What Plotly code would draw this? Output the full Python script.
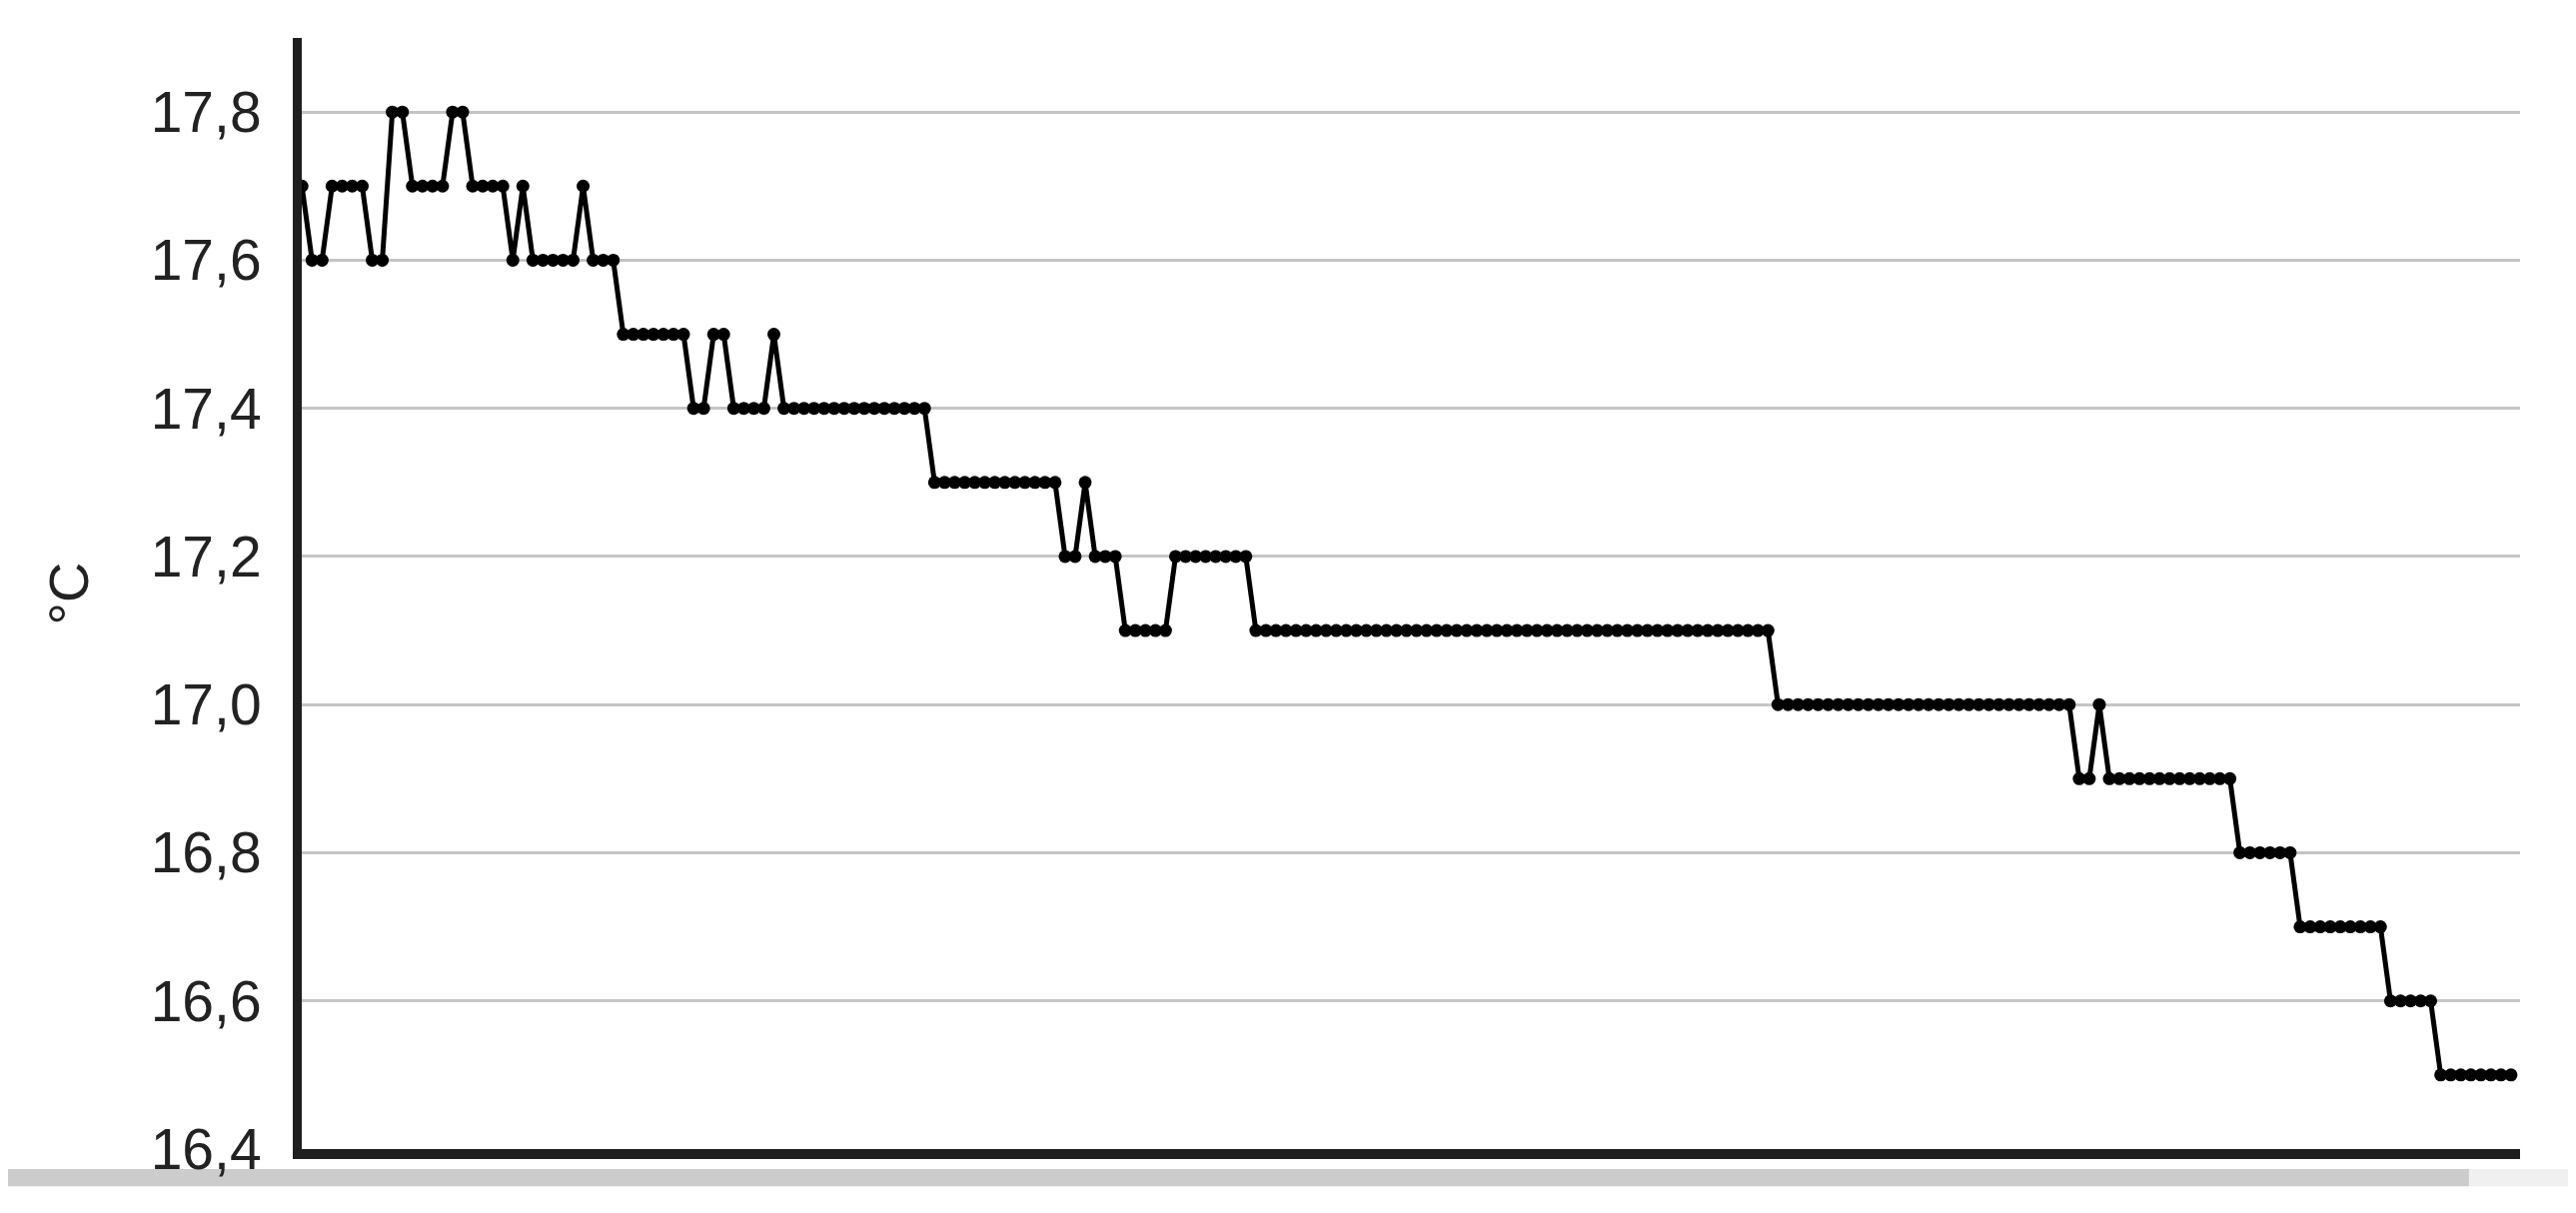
import plotly.graph_objects as go

# temperature readings, one every sample step
temps = [
    17.7, 17.6, 17.6, 17.7, 17.7, 17.7, 17.7, 17.6, 17.6, 17.8,
    17.8, 17.7, 17.7, 17.7, 17.7, 17.8, 17.8, 17.7, 17.7, 17.7,
    17.7, 17.6, 17.7, 17.6, 17.6, 17.6, 17.6, 17.6, 17.7, 17.6,
    17.6, 17.6, 17.5, 17.5, 17.5, 17.5, 17.5, 17.5, 17.5, 17.4,
    17.4, 17.5, 17.5, 17.4, 17.4, 17.4, 17.4, 17.5, 17.4, 17.4,
    17.4, 17.4, 17.4, 17.4, 17.4, 17.4, 17.4, 17.4, 17.4, 17.4,
    17.4, 17.4, 17.4, 17.3, 17.3, 17.3, 17.3, 17.3, 17.3, 17.3,
    17.3, 17.3, 17.3, 17.3, 17.3, 17.3, 17.2, 17.2, 17.3, 17.2,
    17.2, 17.2, 17.1, 17.1, 17.1, 17.1, 17.1, 17.2, 17.2, 17.2,
    17.2, 17.2, 17.2, 17.2, 17.2, 17.1, 17.1, 17.1, 17.1, 17.1,
    17.1, 17.1, 17.1, 17.1, 17.1, 17.1, 17.1, 17.1, 17.1, 17.1,
    17.1, 17.1, 17.1, 17.1, 17.1, 17.1, 17.1, 17.1, 17.1, 17.1,
    17.1, 17.1, 17.1, 17.1, 17.1, 17.1, 17.1, 17.1, 17.1, 17.1,
    17.1, 17.1, 17.1, 17.1, 17.1, 17.1, 17.1, 17.1, 17.1, 17.1,
    17.1, 17.1, 17.1, 17.1, 17.1, 17.1, 17.1, 17.0, 17.0, 17.0,
    17.0, 17.0, 17.0, 17.0, 17.0, 17.0, 17.0, 17.0, 17.0, 17.0,
    17.0, 17.0, 17.0, 17.0, 17.0, 17.0, 17.0, 17.0, 17.0, 17.0,
    17.0, 17.0, 17.0, 17.0, 17.0, 17.0, 17.0, 16.9, 16.9, 17.0,
    16.9, 16.9, 16.9, 16.9, 16.9, 16.9, 16.9, 16.9, 16.9, 16.9,
    16.9, 16.9, 16.9, 16.8, 16.8, 16.8, 16.8, 16.8, 16.8, 16.7,
    16.7, 16.7, 16.7, 16.7, 16.7, 16.7, 16.7, 16.7, 16.6, 16.6,
    16.6, 16.6, 16.6, 16.5, 16.5, 16.5, 16.5, 16.5, 16.5, 16.5,
    16.5,
]
samples = list(range(len(temps)))

y_ticks = [16.4, 16.6, 16.8, 17.0, 17.2, 17.4, 17.6, 17.8]

FONT = "Liberation Sans, Arial, sans-serif"

fig = go.Figure(go.Scatter(
    x=samples,
    y=temps,
    mode="lines+markers",
    line=dict(color="black", width=5),
    marker=dict(color="black", size=13, symbol="circle"),
    cliponaxis=False,
    hoverinfo="x+y",
))

# page body adds 8px, so the figure is a bit smaller than the window
fig.update_layout(
    width=2570,
    height=1206,
    margin=dict(l=294, r=56, t=30, b=64),
    plot_bgcolor="white",
    paper_bgcolor="white",
    showlegend=False,
    separators=",.",
    font=dict(family=FONT, color="#222222"),
    # grey scrollbar strip under the chart
    shapes=[
        dict(type="rect", xref="paper", yref="paper", x0=-0.14, x1=0.977,
             y0=-0.0335, y1=-0.018, fillcolor="#cccccc", line_width=0, layer="below"),
        dict(type="rect", xref="paper", yref="paper", x0=0.977, x1=1.03,
             y0=-0.0335, y1=-0.018, fillcolor="#f0f0f0", line_width=0, layer="below"),
    ],
)

fig.update_xaxes(
    range=[-0.02, 220.9],
    showgrid=False,
    showticklabels=False,
    ticks="",
    zeroline=False,
    showline=True,
    linecolor="#1e1e1e",
    linewidth=10,
)

fig.update_yaxes(
    range=[16.4, 17.9],
    tickvals=y_ticks,
    tickformat=".1f",
    tickfont=dict(size=57, color="#222222"),
    ticks="",
    ticklabelstandoff=20,
    showgrid=True,
    gridcolor="#c4c4c4",
    gridwidth=3,
    zeroline=False,
    showline=True,
    linecolor="#1e1e1e",
    linewidth=9,
    title=dict(text="°C", font=dict(size=56, color="#222222"), standoff=48),
)

fig.write_html("out.html")
